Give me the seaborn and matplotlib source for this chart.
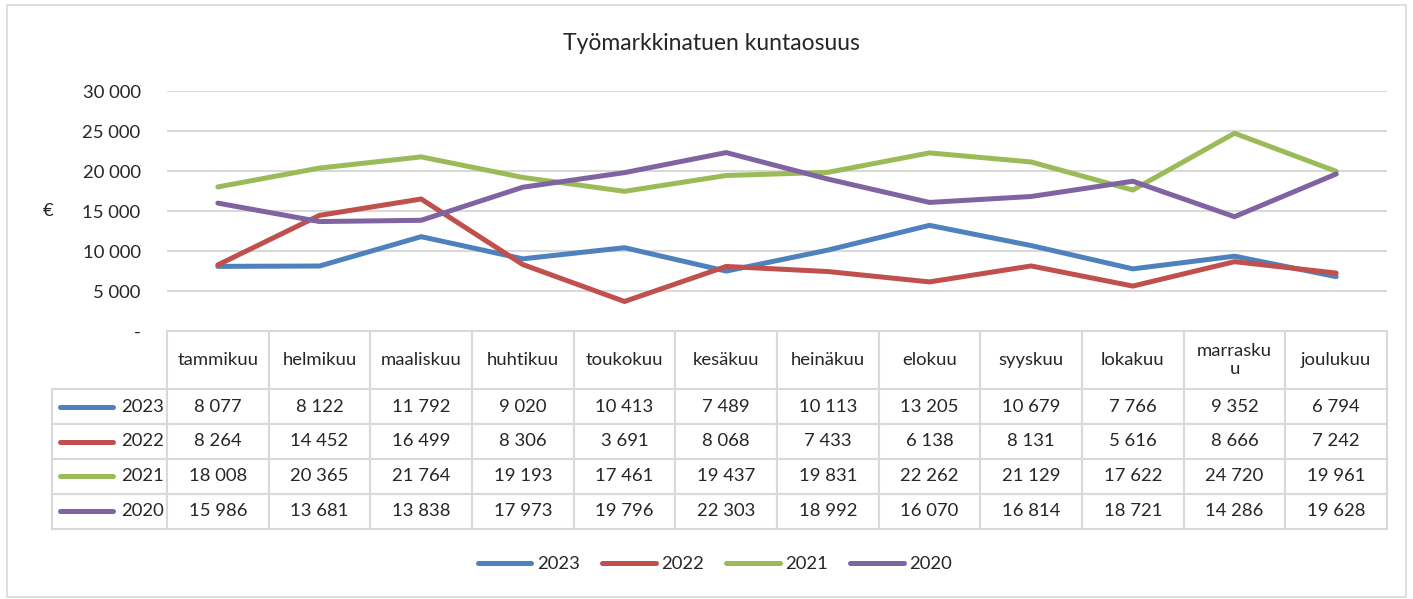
import matplotlib
matplotlib.use("Agg")
import matplotlib.pyplot as plt
import seaborn as sns
import pandas as pd
from matplotlib.lines import Line2D
from matplotlib.patches import Rectangle

months = ["tammikuu", "helmikuu", "maaliskuu", "huhtikuu", "toukokuu", "kesäkuu",
          "heinäkuu", "elokuu", "syyskuu", "lokakuu", "marraskuu", "joulukuu"]
v2023 = [8077, 8122, 11792, 9020, 10413, 7489, 10113, 13205, 10679, 7766, 9352, 6794]
v2022 = [8264, 14452, 16499, 8306, 3691, 8068, 7433, 6138, 8131, 5616, 8666, 7242]
v2021 = [18008, 20365, 21764, 19193, 17461, 19437, 19831, 22262, 21129, 17622, 24720, 19961]
v2020 = [15986, 13681, 13838, 17973, 19796, 22303, 18992, 16070, 16814, 18721, 14286, 19628]
years = ["2023", "2022", "2021", "2020"]
series = {"2023": v2023, "2022": v2022, "2021": v2021, "2020": v2020}
colors = {"2023": "#4F81BD", "2022": "#C0504D", "2021": "#9BBB59", "2020": "#8064A2"}
title = "Työmarkkinatuen kuntaosuus"
yticks = [0, 5000, 10000, 15000, 20000, 25000, 30000]

sns.set_theme(style="white")
plt.rcParams['font.family'] = ['Lato', 'DejaVu Sans']

rows = []
for y in years:
    for i, v in enumerate(series[y]):
        rows.append({"year": y, "idx": i, "value": v})
df = pd.DataFrame(rows)

W, H = 1413, 599
fig = plt.figure(figsize=(W / 100, H / 100), dpi=100)
ax = fig.add_axes([167 / W, 1 - 331 / H, 1220 / W, 240 / H])

sns.lineplot(data=df, x="idx", y="value", hue="year", hue_order=years,
             palette=colors, linewidth=3.6, ax=ax, legend=False,
             solid_capstyle="round")

ax.set_xlim(-0.5, 11.5)
ax.set_ylim(0, 30000)
ax.set_yticks(yticks)
ax.set_yticklabels([("-" if t == 0 else f"{t:,}".replace(",", " ")) for t in yticks],
                   fontsize=13.3)
ax.tick_params(axis="y", length=0, pad=19)
ax.set_xticks([])
ax.set_xlabel("")
ax.set_ylabel("")
for s in ax.spines.values():
    s.set_visible(False)
ax.grid(axis="y", color="#d9d9d9", linewidth=1.5)
ax.set_axisbelow(True)

fig.text(48 / W, 1 - 211 / H, "€", ha="center", va="center", fontsize=13.3)

# data table
def fmt(v):
    return f"{v:,}".replace(",", " ")

disp = [m if m != "marraskuu" else "marrasku\nu" for m in months]
cell_text = [[""] + disp]
for y in years:
    cell_text.append([y] + [fmt(v) for v in series[y]])

col_w = [115] + [1220 / 12] * 12
tbl = ax.table(cellText=cell_text, colWidths=col_w, cellLoc="center",
               bbox=[-115 / 1220, -198 / 240, 1335 / 1220, 198 / 240])
tbl.auto_set_font_size(False)
for (r, c), cell in tbl.get_celld().items():
    cell.set_edgecolor("#d9d9d9")
    cell.set_linewidth(1.5)
    cell.set_height(58 if r == 0 else 35)
    cell.set_text_props(fontsize=13.3)
    if r == 0 and c == 0:
        cell.visible_edges = ""
    if c == 0 and r > 0:
        cell.get_text().set_ha("right")
        cell._loc = "right"
        cell.PAD = 0.03

# legend key lines in row label cells
for k, y in enumerate(years):
    yc = (331 + 58 + 35 * k + 17.5)
    ax.add_line(Line2D([(60 - 167) / 1220, (113 - 167) / 1220],
                       [(331 - yc) / 240] * 2, transform=ax.transAxes,
                       color=colors[y], linewidth=3.6, solid_capstyle="round",
                       clip_on=False))

fig.text(711 / W, 1 - 44 / H, title, ha="center", va="center", fontsize=16.5)

handles = [Line2D([0], [0], color=colors[y], linewidth=3.6) for y in years]
fig.legend(handles, years, loc="center", bbox_to_anchor=(715 / W, 1 - 564 / H),
           ncol=4, frameon=False, fontsize=13.3, handlelength=2.9,
           columnspacing=1.2, handletextpad=0.3)

fig.patches.append(Rectangle((7 / W, 1 - 597 / H), 1399 / W, 592 / H,
                             transform=fig.transFigure, fill=False,
                             edgecolor="#d9d9d9", linewidth=1.2))

fig.savefig("out.png", dpi=100)
